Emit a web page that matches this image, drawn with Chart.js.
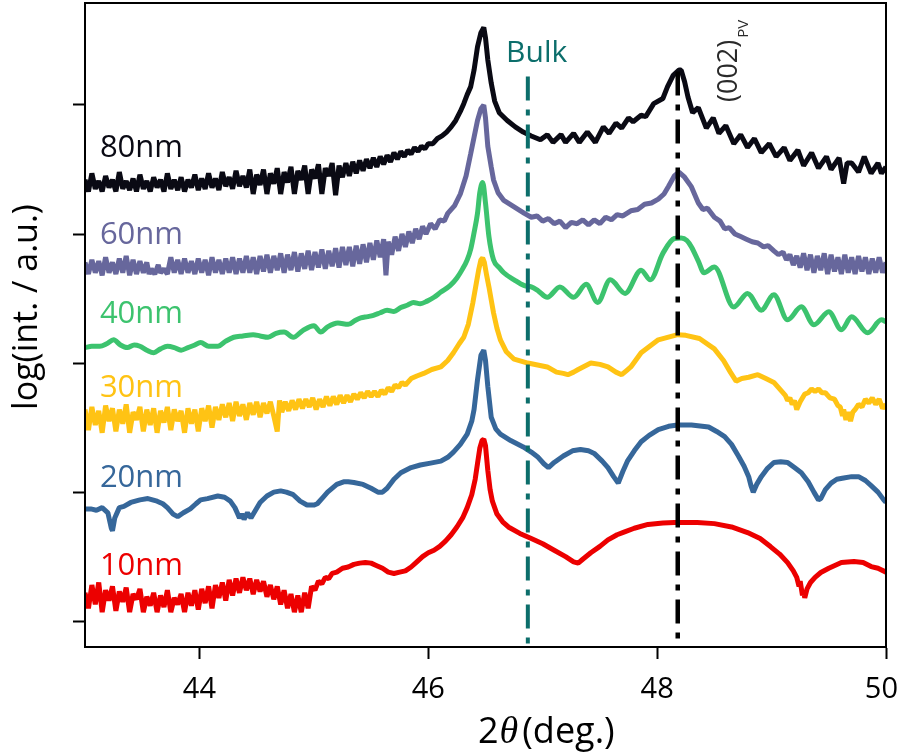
<!DOCTYPE html>
<html>
<head>
<meta charset="utf-8">
<script src="https://cdn.jsdelivr.net/npm/chart.js@4.4.1/dist/chart.umd.min.js"></script>
<style>
  html, body { margin: 0; padding: 0; background: #fff; }
  #xrd { display: block; }
</style>
</head>
<body>
<canvas id="xrd" width="899" height="755"></canvas>
<script>
// 2theta (deg) vs log intensity, each film offset by roughly one decade
const thicknesses = ['80nm', '60nm', '40nm', '30nm', '20nm', '10nm'];
const xTicks = [44, 46, 48, 50];
const yTicks = [0, 1, 2, 3, 4];

const scan80 = [[43.00,3.42],[43.03,3.33],[43.06,3.47],[43.09,3.35],[43.12,3.41],[43.15,3.33],[43.18,3.45],[43.21,3.36],[43.24,3.42],[43.27,3.33],[43.30,3.48],[43.33,3.35],[43.36,3.41],[43.39,3.34],[43.42,3.43],[43.45,3.33],[43.48,3.46],[43.51,3.35],[43.54,3.41],[43.57,3.33],[43.60,3.44],[43.63,3.36],[43.66,3.42],[43.69,3.33],[43.72,3.47],[43.75,3.35],[43.78,3.42],[43.81,3.34],[43.84,3.44],[43.87,3.33],[43.90,3.42],[43.93,3.36],[43.96,3.46],[43.99,3.34],[44.02,3.43],[44.05,3.35],[44.08,3.47],[44.11,3.36],[44.14,3.43],[44.17,3.34],[44.20,3.48],[44.23,3.37],[44.26,3.44],[44.29,3.35],[44.32,3.49],[44.35,3.37],[44.38,3.45],[44.41,3.36],[44.44,3.50],[44.47,3.31],[44.50,3.46],[44.53,3.38],[44.56,3.50],[44.59,3.31],[44.62,3.47],[44.65,3.39],[44.68,3.51],[44.71,3.31],[44.74,3.48],[44.77,3.40],[44.80,3.52],[44.83,3.31],[44.86,3.49],[44.89,3.42],[44.92,3.53],[44.95,3.31],[44.98,3.50],[45.01,3.43],[45.04,3.54],[45.07,3.31],[45.10,3.51],[45.13,3.45],[45.16,3.55],[45.19,3.30],[45.22,3.53],[45.25,3.44],[45.28,3.55],[45.31,3.45],[45.34,3.56],[45.37,3.47],[45.40,3.57],[45.43,3.49],[45.46,3.58],[45.49,3.51],[45.52,3.59],[45.55,3.52],[45.58,3.60],[45.61,3.54],[45.64,3.61],[45.67,3.56],[45.70,3.63],[45.73,3.58],[45.76,3.64],[45.79,3.60],[45.82,3.65],[45.85,3.62],[45.88,3.67],[45.91,3.64],[45.94,3.68],[45.97,3.66],[46.00,3.70],[46.04,3.70],[46.08,3.74],[46.12,3.76],[46.16,3.79],[46.20,3.83],[46.24,3.88],[46.28,3.95],[46.31,4.01],[46.34,4.08],[46.37,4.14],[46.40,4.27],[46.43,4.45],[46.46,4.56],[46.485,4.60],[46.50,4.52],[46.52,4.35],[46.55,4.17],[46.58,4.03],[46.62,3.94],[46.69,3.88],[46.76,3.83],[46.83,3.79],[46.90,3.76],[46.98,3.73],[47.04,3.77],[47.09,3.71],[47.16,3.77],[47.20,3.71],[47.27,3.78],[47.32,3.71],[47.39,3.79],[47.46,3.71],[47.53,3.83],[47.58,3.78],[47.64,3.86],[47.69,3.82],[47.75,3.90],[47.79,3.87],[47.86,3.92],[47.90,3.91],[47.97,4.01],[48.05,4.05],[48.09,4.14],[48.14,4.23],[48.19,4.27],[48.21,4.27],[48.24,4.18],[48.27,4.06],[48.31,3.94],[48.36,3.98],[48.43,3.82],[48.49,3.90],[48.54,3.78],[48.60,3.84],[48.67,3.70],[48.73,3.77],[48.79,3.67],[48.85,3.74],[48.91,3.63],[48.98,3.70],[49.04,3.60],[49.11,3.67],[49.16,3.57],[49.23,3.65],[49.28,3.53],[49.35,3.63],[49.41,3.51],[49.48,3.60],[49.52,3.50],[49.59,3.59],[49.63,3.39],[49.66,3.55],[49.70,3.55],[49.76,3.48],[49.81,3.60],[49.87,3.47],[49.93,3.55],[49.96,3.47],[50.00,3.52]];

const scan60 = [[43.00,2.78],[43.03,2.69],[43.06,2.80],[43.09,2.70],[43.12,2.79],[43.15,2.68],[43.18,2.82],[43.21,2.70],[43.24,2.78],[43.27,2.69],[43.30,2.81],[43.33,2.70],[43.36,2.83],[43.39,2.68],[43.42,2.80],[43.45,2.69],[43.48,2.79],[43.51,2.70],[43.54,2.78],[43.56,2.69],[43.58,2.73],[43.61,2.69],[43.64,2.76],[43.66,2.70],[43.69,2.73],[43.72,2.69],[43.75,2.82],[43.78,2.70],[43.81,2.80],[43.84,2.69],[43.87,2.81],[43.90,2.70],[43.93,2.79],[43.96,2.69],[43.99,2.81],[44.02,2.70],[44.05,2.80],[44.08,2.68],[44.11,2.82],[44.14,2.70],[44.17,2.80],[44.20,2.69],[44.23,2.81],[44.26,2.70],[44.29,2.82],[44.32,2.69],[44.35,2.81],[44.38,2.70],[44.41,2.83],[44.44,2.70],[44.47,2.82],[44.50,2.69],[44.53,2.83],[44.56,2.71],[44.59,2.84],[44.62,2.70],[44.65,2.83],[44.68,2.72],[44.71,2.85],[44.74,2.70],[44.77,2.84],[44.80,2.72],[44.83,2.86],[44.86,2.71],[44.89,2.85],[44.92,2.73],[44.95,2.87],[44.98,2.72],[45.01,2.86],[45.04,2.74],[45.07,2.88],[45.10,2.73],[45.13,2.87],[45.16,2.75],[45.19,2.89],[45.22,2.74],[45.25,2.90],[45.28,2.76],[45.31,2.90],[45.34,2.75],[45.37,2.91],[45.40,2.77],[45.43,2.92],[45.46,2.78],[45.49,2.93],[45.52,2.80],[45.55,2.95],[45.58,2.82],[45.61,2.96],[45.63,2.68],[45.65,2.94],[45.68,2.84],[45.71,2.98],[45.74,2.87],[45.77,3.00],[45.80,2.90],[45.83,3.02],[45.86,2.93],[45.89,3.04],[45.92,2.96],[45.95,3.06],[45.98,3.00],[46.02,3.08],[46.06,3.04],[46.10,3.11],[46.14,3.10],[46.17,3.16],[46.23,3.22],[46.28,3.31],[46.33,3.45],[46.37,3.62],[46.40,3.75],[46.43,3.88],[46.46,3.97],[46.485,4.00],[46.50,3.90],[46.52,3.68],[46.55,3.52],[46.57,3.42],[46.61,3.32],[46.66,3.26],[46.75,3.21],[46.84,3.16],[46.90,3.13],[46.95,3.14],[47.00,3.10],[47.05,3.12],[47.10,3.08],[47.15,3.10],[47.20,3.05],[47.25,3.09],[47.30,3.08],[47.35,3.11],[47.40,3.07],[47.45,3.11],[47.50,3.08],[47.55,3.13],[47.60,3.11],[47.65,3.15],[47.70,3.14],[47.77,3.18],[47.83,3.19],[47.89,3.23],[47.95,3.24],[48.01,3.27],[48.06,3.31],[48.10,3.37],[48.15,3.45],[48.19,3.48],[48.24,3.44],[48.30,3.365],[48.36,3.24],[48.40,3.19],[48.44,3.20],[48.50,3.13],[48.55,3.10],[48.59,3.04],[48.63,3.05],[48.68,3.00],[48.73,2.98],[48.78,2.96],[48.83,2.94],[48.88,2.93],[48.93,2.90],[48.97,2.91],[49.02,2.87],[49.06,2.84],[49.10,2.86],[49.13,2.80],[49.16,2.84],[49.19,2.76],[49.22,2.83],[49.25,2.74],[49.28,2.85],[49.31,2.72],[49.34,2.84],[49.37,2.70],[49.40,2.83],[49.43,2.72],[49.46,2.85],[49.49,2.69],[49.52,2.84],[49.55,2.71],[49.58,2.82],[49.61,2.69],[49.64,2.84],[49.67,2.70],[49.70,2.82],[49.73,2.69],[49.76,2.83],[49.79,2.71],[49.82,2.82],[49.85,2.69],[49.88,2.81],[49.91,2.70],[49.94,2.82],[49.97,2.70],[50.00,2.78]];

const scan40 = [[43.00,2.12],[43.06,2.13],[43.13,2.13],[43.19,2.15],[43.25,2.18],[43.31,2.14],[43.37,2.12],[43.43,2.14],[43.48,2.13],[43.54,2.10],[43.60,2.08],[43.66,2.11],[43.72,2.13],[43.78,2.12],[43.84,2.10],[43.90,2.12],[43.96,2.14],[44.01,2.16],[44.08,2.13],[44.16,2.13],[44.23,2.17],[44.30,2.20],[44.38,2.21],[44.47,2.22],[44.53,2.21],[44.60,2.20],[44.67,2.23],[44.74,2.24],[44.82,2.20],[44.90,2.25],[45.00,2.29],[45.06,2.24],[45.12,2.28],[45.21,2.31],[45.30,2.30],[45.36,2.33],[45.41,2.35],[45.47,2.36],[45.52,2.37],[45.58,2.39],[45.64,2.41],[45.70,2.40],[45.76,2.43],[45.82,2.45],[45.87,2.47],[45.93,2.46],[45.99,2.48],[46.05,2.51],[46.11,2.55],[46.19,2.60],[46.25,2.66],[46.30,2.73],[46.34,2.80],[46.37,2.88],[46.40,3.01],[46.43,3.16],[46.45,3.32],[46.475,3.40],[46.50,3.24],[46.53,2.98],[46.57,2.80],[46.62,2.74],[46.66,2.70],[46.75,2.645],[46.84,2.60],[46.90,2.59],[46.96,2.56],[47.04,2.51],[47.15,2.59],[47.27,2.51],[47.38,2.61],[47.48,2.47],[47.59,2.645],[47.72,2.54],[47.86,2.72],[47.94,2.645],[48.05,2.85],[48.15,2.965],[48.21,2.97],[48.26,2.95],[48.30,2.90],[48.36,2.79],[48.41,2.70],[48.50,2.745],[48.67,2.435],[48.79,2.54],[48.91,2.41],[49.02,2.53],[49.14,2.335],[49.26,2.436],[49.37,2.296],[49.50,2.397],[49.61,2.258],[49.70,2.358],[49.84,2.234],[49.96,2.335],[50.00,2.32]];

const scan30 = [[43.00,1.64],[43.03,1.48],[43.06,1.66],[43.09,1.52],[43.12,1.63],[43.15,1.46],[43.18,1.67],[43.21,1.55],[43.24,1.65],[43.27,1.47],[43.30,1.64],[43.33,1.53],[43.36,1.68],[43.39,1.46],[43.42,1.62],[43.45,1.56],[43.48,1.66],[43.51,1.47],[43.54,1.64],[43.57,1.52],[43.60,1.65],[43.63,1.46],[43.66,1.63],[43.69,1.54],[43.72,1.66],[43.75,1.48],[43.78,1.64],[43.81,1.55],[43.84,1.63],[43.87,1.46],[43.90,1.65],[43.93,1.53],[43.96,1.64],[43.99,1.47],[44.02,1.65],[44.05,1.55],[44.08,1.67],[44.11,1.50],[44.14,1.66],[44.17,1.56],[44.20,1.68],[44.23,1.58],[44.26,1.69],[44.29,1.55],[44.32,1.70],[44.35,1.59],[44.38,1.68],[44.41,1.56],[44.44,1.69],[44.47,1.60],[44.50,1.70],[44.53,1.58],[44.56,1.69],[44.59,1.61],[44.62,1.70],[44.65,1.59],[44.68,1.47],[44.70,1.71],[44.72,1.62],[44.75,1.70],[44.78,1.63],[44.81,1.71],[44.84,1.64],[44.87,1.72],[44.90,1.65],[44.93,1.72],[44.96,1.66],[44.99,1.73],[45.02,1.64],[45.05,1.72],[45.08,1.66],[45.11,1.74],[45.14,1.67],[45.17,1.74],[45.20,1.68],[45.23,1.75],[45.26,1.69],[45.29,1.75],[45.32,1.70],[45.35,1.76],[45.38,1.72],[45.41,1.77],[45.44,1.73],[45.47,1.78],[45.50,1.74],[45.53,1.78],[45.56,1.74],[45.59,1.79],[45.62,1.76],[45.65,1.81],[45.68,1.78],[45.71,1.83],[45.74,1.81],[45.77,1.85],[45.80,1.83],[45.85,1.88],[45.90,1.90],[45.96,1.92],[46.03,1.95],[46.11,1.97],[46.17,2.02],[46.22,2.08],[46.27,2.15],[46.31,2.20],[46.35,2.30],[46.39,2.47],[46.42,2.62],[46.44,2.72],[46.46,2.80],[46.475,2.815],[46.49,2.78],[46.51,2.68],[46.53,2.59],[46.55,2.49],[46.57,2.39],[46.60,2.27],[46.63,2.18],[46.68,2.09],[46.75,2.03],[46.87,2.00],[47.04,1.97],[47.12,1.93],[47.18,1.92],[47.22,1.91],[47.27,1.93],[47.31,1.95],[47.42,2.00],[47.50,1.99],[47.57,1.97],[47.64,1.93],[47.69,1.91],[47.73,1.94],[47.77,1.97],[47.86,2.08],[48.01,2.18],[48.18,2.22],[48.25,2.215],[48.37,2.19],[48.50,2.11],[48.58,2.02],[48.64,1.93],[48.69,1.86],[48.74,1.88],[48.80,1.89],[48.88,1.91],[48.95,1.88],[49.02,1.85],[49.08,1.79],[49.12,1.75],[49.14,1.71],[49.16,1.73],[49.18,1.68],[49.20,1.71],[49.22,1.64],[49.25,1.70],[49.29,1.76],[49.32,1.77],[49.35,1.80],[49.38,1.78],[49.41,1.80],[49.44,1.77],[49.47,1.77],[49.51,1.73],[49.55,1.72],[49.58,1.67],[49.60,1.66],[49.62,1.59],[49.63,1.64],[49.65,1.56],[49.67,1.62],[49.69,1.55],[49.71,1.62],[49.73,1.64],[49.76,1.68],[49.79,1.66],[49.82,1.72],[49.85,1.69],[49.88,1.73],[49.91,1.68],[49.94,1.72],[49.97,1.65],[50.00,1.68]];

const scan20 = [[43.00,0.87],[43.05,0.87],[43.10,0.86],[43.15,0.88],[43.20,0.84],[43.23,0.72],[43.24,0.70],[43.26,0.80],[43.30,0.88],[43.34,0.89],[43.40,0.92],[43.48,0.94],[43.55,0.95],[43.63,0.93],[43.68,0.91],[43.72,0.88],[43.77,0.83],[43.81,0.81],[43.86,0.84],[43.92,0.87],[43.97,0.91],[44.01,0.94],[44.07,0.95],[44.16,0.97],[44.22,0.96],[44.27,0.93],[44.31,0.88],[44.33,0.84],[44.35,0.80],[44.37,0.83],[44.39,0.79],[44.42,0.84],[44.45,0.80],[44.49,0.86],[44.53,0.92],[44.59,0.97],[44.65,1.00],[44.71,1.01],[44.76,1.00],[44.82,0.98],[44.88,0.93],[44.94,0.90],[45.00,0.90],[45.03,0.91],[45.08,0.96],[45.12,1.00],[45.20,1.06],[45.26,1.08],[45.30,1.08],[45.35,1.075],[45.43,1.06],[45.50,1.03],[45.56,1.00],[45.60,1.00],[45.64,1.03],[45.70,1.10],[45.76,1.15],[45.85,1.19],[45.93,1.21],[46.02,1.225],[46.11,1.24],[46.17,1.27],[46.22,1.31],[46.28,1.37],[46.34,1.45],[46.38,1.55],[46.40,1.64],[46.43,1.87],[46.46,2.06],[46.485,2.10],[46.50,2.02],[46.52,1.82],[46.55,1.58],[46.59,1.49],[46.63,1.45],[46.72,1.40],[46.83,1.35],[46.90,1.31],[46.96,1.27],[47.01,1.22],[47.05,1.19],[47.10,1.23],[47.18,1.28],[47.26,1.32],[47.33,1.33],[47.40,1.32],[47.45,1.30],[47.52,1.24],[47.57,1.19],[47.62,1.12],[47.66,1.07],[47.70,1.16],[47.74,1.24],[47.80,1.32],[47.86,1.39],[47.93,1.44],[48.01,1.485],[48.10,1.51],[48.18,1.52],[48.30,1.52],[48.45,1.505],[48.52,1.47],[48.59,1.43],[48.65,1.37],[48.71,1.28],[48.76,1.20],[48.80,1.12],[48.82,1.05],[48.84,1.00],[48.87,1.06],[48.91,1.12],[48.96,1.18],[49.02,1.23],[49.08,1.235],[49.14,1.23],[49.20,1.19],[49.26,1.15],[49.32,1.08],[49.37,1.00],[49.41,0.94],[49.43,0.95],[49.47,1.02],[49.52,1.07],[49.57,1.10],[49.63,1.11],[49.70,1.12],[49.76,1.12],[49.82,1.09],[49.87,1.05],[49.93,1.00],[49.98,0.94],[50.00,0.92]];

const scan10 = [[43.00,0.22],[43.03,0.10],[43.06,0.28],[43.09,0.13],[43.12,0.30],[43.15,0.07],[43.18,0.24],[43.21,0.16],[43.24,0.27],[43.27,0.08],[43.30,0.23],[43.33,0.15],[43.36,0.26],[43.39,0.07],[43.42,0.21],[43.45,0.17],[43.48,0.25],[43.51,0.07],[43.54,0.19],[43.57,0.12],[43.60,0.22],[43.63,0.07],[43.66,0.20],[43.69,0.11],[43.72,0.24],[43.75,0.07],[43.78,0.18],[43.81,0.13],[43.84,0.21],[43.87,0.07],[43.90,0.22],[43.93,0.12],[43.96,0.24],[43.99,0.09],[44.02,0.25],[44.05,0.14],[44.08,0.27],[44.11,0.10],[44.14,0.28],[44.17,0.18],[44.20,0.30],[44.23,0.16],[44.26,0.32],[44.29,0.20],[44.32,0.33],[44.35,0.22],[44.38,0.34],[44.41,0.24],[44.44,0.33],[44.47,0.21],[44.50,0.32],[44.53,0.23],[44.56,0.31],[44.59,0.19],[44.62,0.28],[44.65,0.17],[44.68,0.27],[44.71,0.13],[44.74,0.24],[44.77,0.10],[44.80,0.21],[44.83,0.07],[44.86,0.20],[44.89,0.07],[44.92,0.22],[44.95,0.10],[44.98,0.27],[45.01,0.24],[45.04,0.31],[45.07,0.29],[45.10,0.34],[45.13,0.33],[45.16,0.37],[45.20,0.38],[45.25,0.41],[45.30,0.42],[45.35,0.44],[45.40,0.45],[45.45,0.455],[45.50,0.45],[45.55,0.43],[45.60,0.41],[45.65,0.38],[45.70,0.37],[45.75,0.38],[45.80,0.39],[45.85,0.42],[45.90,0.46],[45.95,0.50],[46.00,0.53],[46.05,0.55],[46.10,0.58],[46.15,0.62],[46.20,0.67],[46.25,0.73],[46.30,0.80],[46.34,0.88],[46.38,0.98],[46.41,1.10],[46.43,1.22],[46.45,1.34],[46.47,1.40],[46.485,1.41],[46.50,1.36],[46.52,1.17],[46.54,1.02],[46.56,0.93],[46.60,0.83],[46.65,0.77],[46.70,0.73],[46.80,0.68],[46.90,0.64],[47.00,0.60],[47.10,0.55],[47.20,0.50],[47.27,0.46],[47.31,0.45],[47.35,0.48],[47.42,0.53],[47.50,0.58],[47.57,0.63],[47.65,0.67],[47.71,0.69],[47.80,0.72],[47.92,0.75],[48.05,0.76],[48.15,0.765],[48.21,0.765],[48.35,0.765],[48.50,0.756],[48.65,0.73],[48.79,0.687],[48.90,0.64],[48.99,0.578],[49.07,0.52],[49.14,0.454],[49.19,0.39],[49.22,0.34],[49.24,0.27],[49.25,0.31],[49.27,0.20],[49.28,0.24],[49.29,0.18],[49.31,0.25],[49.34,0.30],[49.38,0.34],[49.43,0.377],[49.50,0.41],[49.61,0.454],[49.72,0.462],[49.80,0.455],[49.87,0.423],[49.93,0.41],[50.00,0.38]];

// reference lines: bulk position and the (002) film peak
const bulkLine = [[46.87, 4.22], [46.87, -0.2]];
const pvLine = [[48.18, 4.26], [48.18, -0.2]];

const scans = [scan80, scan60, scan40, scan30, scan20, scan10];
const colors = ['#0a0a14', '#67679c', '#3cc36e', '#ffc314', '#36679a', '#ec0000'];
const teal = '#0c6e6b';

const toXY = pts => pts.map(([x, y]) => ({ x, y }));

const annotations = {
  id: 'annotations',
  afterDraw(chart) {
    const { ctx, chartArea: a, scales: { x, y } } = chart;
    ctx.save();

    ctx.strokeStyle = '#000';
    ctx.lineWidth = 2;
    ctx.strokeRect(a.left, a.top, a.right - a.left, a.bottom - a.top);

    // x tick labels, the last one kept inside the canvas
    ctx.fillStyle = '#000';
    ctx.font = '29px "Open Sans"';
    ctx.textAlign = 'center';
    ctx.textBaseline = 'alphabetic';
    xTicks.forEach(v => {
      const s = String(v);
      const half = ctx.measureText(s).width / 2;
      const px = Math.min(x.getPixelForValue(v), chart.width - half - 1);
      ctx.fillText(s, px, 698);
    });

    // thickness labels above each curve
    const labelY = [3.60, 2.92, 2.31, 1.74, 1.04, 0.36];
    ctx.font = '31px "Open Sans"';
    ctx.textAlign = 'left';
    thicknesses.forEach((t, i) => {
      ctx.fillStyle = colors[i];
      ctx.fillText(t, x.getPixelForValue(43.13), y.getPixelForValue(labelY[i]));
    });

    ctx.fillStyle = teal;
    ctx.font = '30px "Open Sans"';
    ctx.fillText('Bulk', x.getPixelForValue(46.68), y.getPixelForValue(4.33));

    // (002)_PV, rotated
    ctx.save();
    ctx.translate(737, 102);
    ctx.rotate(-Math.PI / 2);
    ctx.fillStyle = '#2a2a2a';
    ctx.font = '27px "Open Sans"';
    ctx.fillText('(002)', 0, 0);
    const w = ctx.measureText('(002)').width;
    ctx.font = '15px "Open Sans"';
    ctx.fillText('PV', w + 2, 11);
    ctx.restore();

    // axis titles
    ctx.fillStyle = '#000';
    ctx.save();
    ctx.translate(37, 307);
    ctx.rotate(-Math.PI / 2);
    ctx.textAlign = 'center';
    ctx.font = '34px "Open Sans"';
    ctx.fillText('log(int. / a.u.)', 0, 0);
    ctx.restore();

    let cx = 478;
    const base = 743;
    ctx.font = '36px "Open Sans"';
    ctx.fillText('2', cx, base);
    cx += ctx.measureText('2').width + 1;
    ctx.font = 'italic 38px "Liberation Serif"';
    ctx.fillText('\u03B8', cx, base);
    cx += ctx.measureText('\u03B8').width + 4;
    ctx.font = '36px "Open Sans"';
    ctx.fillText('(deg.)', cx, base);

    ctx.restore();
  }
};

const refLine = (pts, color, width) => ({
  data: toXY(pts),
  borderColor: color,
  borderWidth: width,
  borderDash: [24, 9, 6, 9],
  pointRadius: 0,
  order: 0
});

new Chart(document.getElementById('xrd'), {
  type: 'line',
  data: {
    datasets: [
      refLine(pvLine, '#000', 4.5),
      refLine(bulkLine, teal, 4),
      ...scans.map((pts, i) => ({
        label: thicknesses[i],
        data: toXY(pts),
        borderColor: colors[i],
        borderWidth: 5,
        borderJoinStyle: 'bevel',
        pointRadius: 0,
        tension: 0,
        cubicInterpolationMode: i === 2 ? 'monotone' : 'default',
        order: 1
      }))
    ]
  },
  options: {
    responsive: false,
    animation: false,
    devicePixelRatio: 1,
    layout: { padding: { left: 0, right: 13, top: 3, bottom: 0 } },
    plugins: { legend: { display: false }, tooltip: { enabled: false } },
    scales: {
      x: {
        type: 'linear',
        min: 43,
        max: 50,
        afterBuildTicks: s => { s.ticks = xTicks.map(v => ({ value: v })); },
        afterFit: s => { s.height = 108; s.paddingLeft = 0; s.paddingRight = 0; },
        ticks: { callback: () => '' },
        grid: { drawOnChartArea: false, tickLength: 12, tickWidth: 2, tickColor: '#000' },
        border: { color: '#000', width: 2 }
      },
      y: {
        type: 'linear',
        min: -0.2,
        max: 4.79,
        afterBuildTicks: s => { s.ticks = yTicks.map(v => ({ value: v })); },
        afterFit: s => { s.width = 85; s.paddingTop = 0; s.paddingBottom = 0; },
        ticks: { callback: () => '' },
        grid: { drawOnChartArea: false, tickLength: 12, tickWidth: 2, tickColor: '#000' },
        border: { color: '#000', width: 2 }
      }
    }
  },
  plugins: [annotations]
});
</script>
</body>
</html>
